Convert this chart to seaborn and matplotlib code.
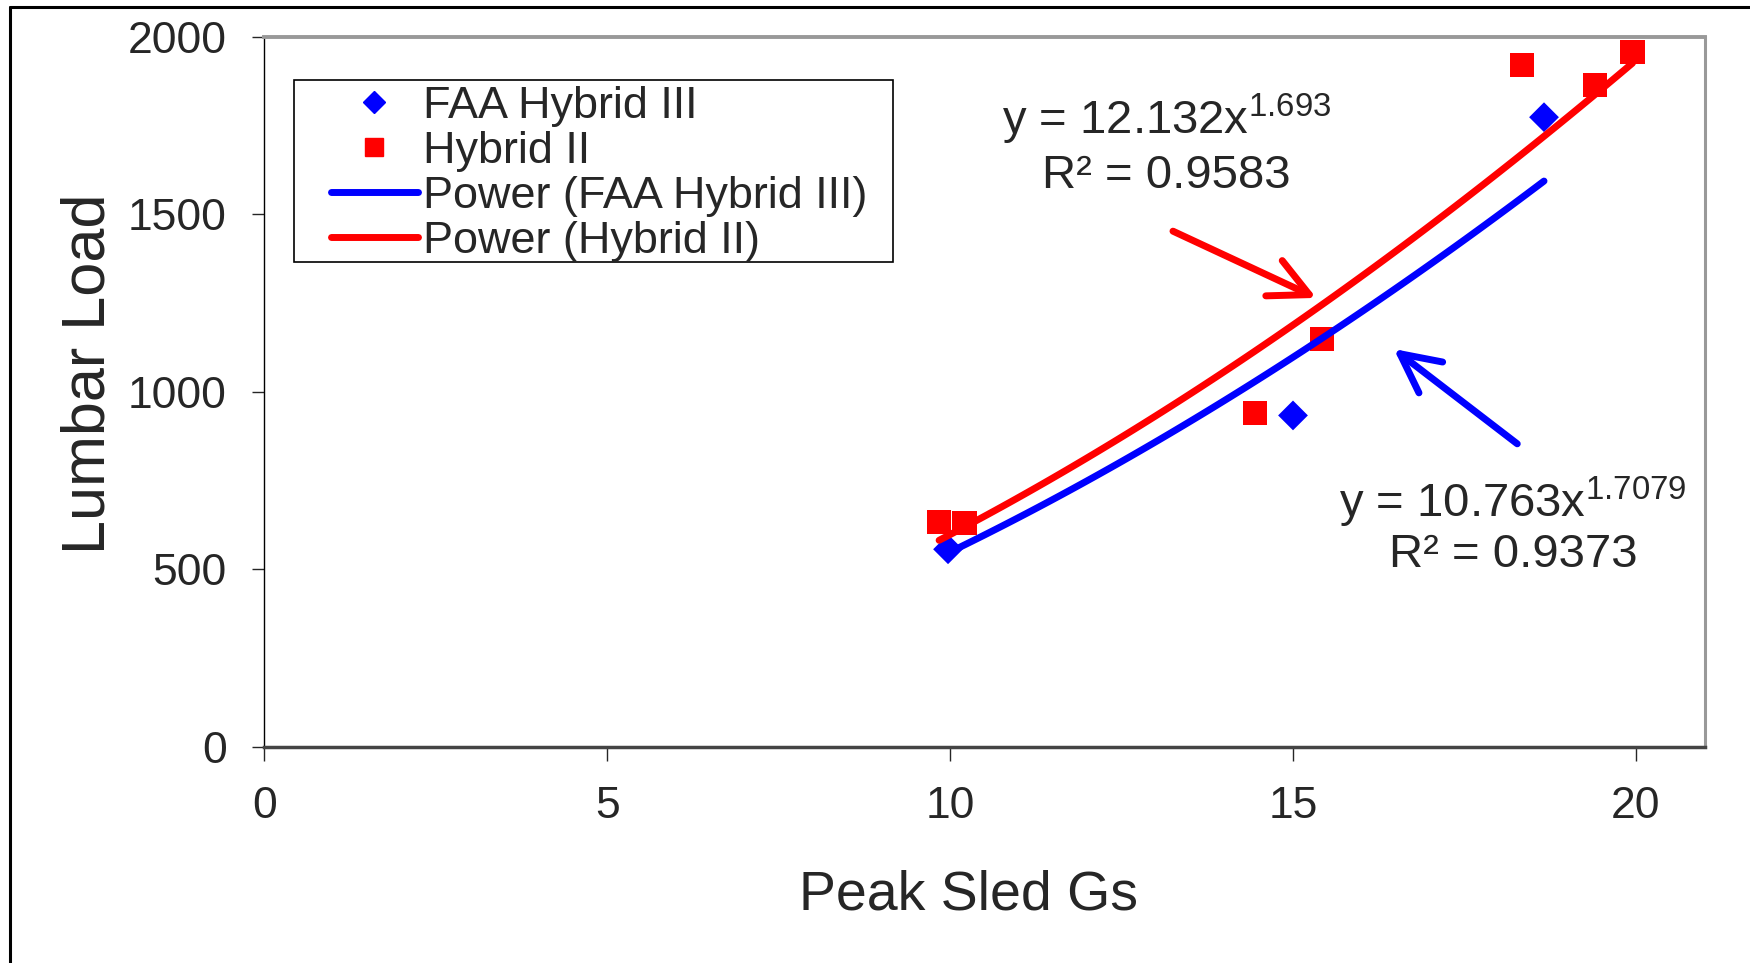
import numpy as np
import pandas as pd
import matplotlib
matplotlib.use("Agg")
import matplotlib.pyplot as plt
from matplotlib.lines import Line2D
from matplotlib.patches import Rectangle
import seaborn as sns

# data
faa_x = [9.97, 15.0, 18.66]
faa_y = [557, 934, 1774]
h2_x = [9.84, 10.21, 14.45, 15.42, 18.34, 19.40, 19.95]
h2_y = [635, 632, 940, 1148, 1921, 1865, 1958]

# power trend line coefficients (as printed on the chart)
faa_a, faa_b = 10.763, 1.7079
h2_a, h2_b = 12.132, 1.693

sns.set_style("white")
plt.rcParams['font.family'] = ['Liberation Sans', 'DejaVu Sans']
plt.rcParams['mathtext.fontset'] = 'custom'
plt.rcParams['mathtext.rm'] = 'Liberation Sans'
plt.rcParams['mathtext.it'] = 'Liberation Sans'

fig = plt.figure(figsize=(17.5, 9.63), dpi=100)
ax = fig.add_axes([0.151, 0.2243, 0.823, 0.7373])

# trend lines
xs_faa = np.linspace(min(faa_x), max(faa_x), 100)
xs_h2 = np.linspace(min(h2_x), max(h2_x), 100)
trend_faa = pd.DataFrame({'x': xs_faa, 'y': faa_a * xs_faa ** faa_b})
trend_h2 = pd.DataFrame({'x': xs_h2, 'y': h2_a * xs_h2 ** h2_b})

sns.scatterplot(x=faa_x, y=faa_y, marker='D', color='#0000ff', s=230,
                edgecolor='none', ax=ax, zorder=2)
sns.scatterplot(x=h2_x, y=h2_y, marker='s', color='#ff0000', s=300,
                edgecolor='none', ax=ax, zorder=2)
sns.lineplot(data=trend_faa, x='x', y='y', color='#0000ff', lw=5, ax=ax, zorder=3)
sns.lineplot(data=trend_h2, x='x', y='y', color='#ff0000', lw=5, ax=ax, zorder=3)

ax.set_xlim(0, 21)
ax.set_ylim(0, 2000)
ax.set_xticks([0, 5, 10, 15, 20])
ax.set_yticks([0, 500, 1000, 1500, 2000])
ax.tick_params(axis='y', labelsize=32, length=9, width=1, pad=18, direction='out', left=True)
ax.tick_params(axis='x', labelsize=32, length=10, width=1, pad=18, direction='out', bottom=True)

ax.spines['left'].set_color('black')
ax.spines['left'].set_linewidth(1)
ax.spines['bottom'].set_color('#444444')
ax.spines['bottom'].set_linewidth(2.5)
ax.spines['top'].set_color('#999999')
ax.spines['top'].set_linewidth(2.8)
ax.spines['right'].set_color('#999999')
ax.spines['right'].set_linewidth(2.2)

ax.set_xlabel('Peak Sled Gs', fontsize=40)
ax.set_ylabel('Lumbar Load', fontsize=44)
ax.xaxis.set_label_coords(0.489, -0.173)
ax.yaxis.set_label_coords(-0.102, 0.525)

# equation labels and arrows
ax.text(13.16, 1769, r'y = 12.132x$^{\mathrm{1.693}}$', fontsize=34, ha='center', va='center')
ax.text(13.16, 1608, 'R² = 0.9583', fontsize=34, ha='center', va='center')
ax.text(18.21, 690, r'y = 10.763x$^{\mathrm{1.7079}}$', fontsize=34, ha='center', va='center')
ax.text(18.21, 541, 'R² = 0.9373', fontsize=34, ha='center', va='center')

arrow_style = '->, head_length=0.7, head_width=0.35'
ax.annotate('', xy=(15.34, 1265), xytext=(13.25, 1453),
            arrowprops=dict(arrowstyle=arrow_style, color='#ff0000', lw=5,
                            mutation_scale=40, shrinkA=0, shrinkB=0,
                            capstyle='round'))
ax.annotate('', xy=(16.47, 1121), xytext=(18.27, 854),
            arrowprops=dict(arrowstyle=arrow_style, color='#0000ff', lw=5,
                            mutation_scale=40, shrinkA=0, shrinkB=0,
                            capstyle='round'))

# legend (box drawn separately so the padding matches)
handles = [
    Line2D([], [], ls='none', marker='D', color='#0000ff', markersize=11),
    Line2D([], [], ls='none', marker='s', color='#ff0000', markersize=13),
    Line2D([], [], color='#0000ff', lw=5),
    Line2D([], [], color='#ff0000', lw=5),
]
labels = ['FAA Hybrid III', 'Hybrid II', 'Power (FAA Hybrid III)', 'Power (Hybrid II)']
ax.add_patch(Rectangle((0.0205, 0.6831), 0.4161, 0.2563, transform=ax.transAxes,
                       facecolor='white', edgecolor='black', lw=1.2, zorder=4))
leg = ax.legend(handles, labels, loc='upper left', bbox_to_anchor=(0.0462, 0.9315),
                borderaxespad=0, fontsize=32.4, frameon=False, handlelength=1.94,
                handletextpad=0.11, labelspacing=0.09, borderpad=0)
leg.set_zorder(5)

# outer frame (left and top edges)
fig.add_artist(Line2D([10 / 1750, 10 / 1750], [0, 1 - 7 / 963], color='black', lw=2.2,
                      transform=fig.transFigure))
fig.add_artist(Line2D([10 / 1750, 1], [1 - 7 / 963, 1 - 7 / 963], color='black', lw=2.2,
                      transform=fig.transFigure))

fig.savefig('out.png', dpi=100)
